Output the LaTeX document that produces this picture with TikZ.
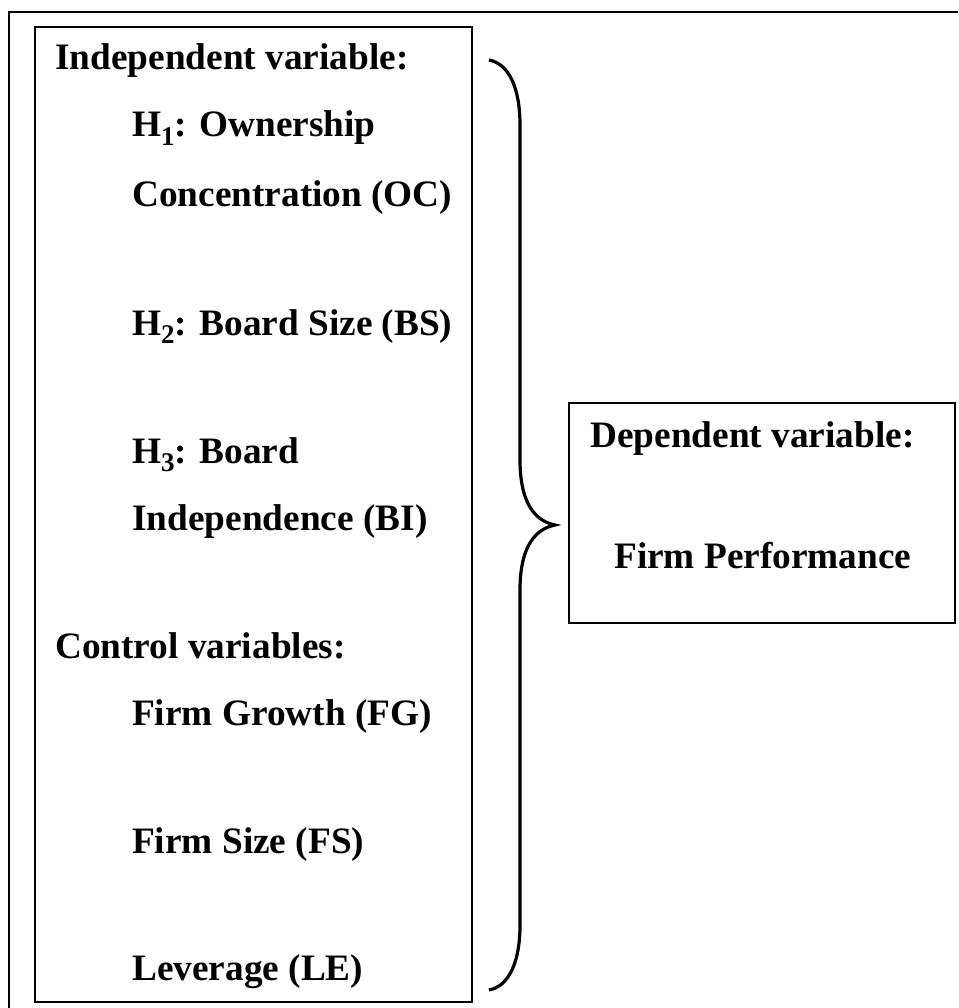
\documentclass[tikz,border=0pt]{standalone}
\usepackage{fontspec}
\setmainfont{Liberation Serif}
\newcommand{\hsub}[1]{\raisebox{-0.22em}{\fontsize{27}{30}\selectfont #1}}
\begin{document}
\begin{tikzpicture}[x=1pt,y=-1pt,
  txt/.style={anchor=base west, inner sep=0pt, font=\fontsize{37.3}{42}\selectfont\bfseries},
  box/.style={draw, line width=1.3pt, inner sep=0pt},
  frame/.style={line width=2pt},
  brace/.style={line width=3.2pt}]
\useasboundingbox (0,0) rectangle (958,1008);
\draw[frame] (9,1008) -- (9,12) -- (958,12);
\node[box, minimum width=437pt, minimum height=975pt] (left) at (253.5,514.5) {};
\node[box, minimum width=386pt, minimum height=220pt] (right) at (762,513) {};
% left texts
\node[txt] (t1) at (55,70) {Independent variable:};
\node[txt] (t2) at (132,137) {H\hsub{1}: Ownership};
\node[txt] (t3) at (132,207) {Concentration (OC)};
\node[txt] (t4) at (132,335) {H\hsub{2}: Board Size (BS)};
\node[txt] (t5) at (132,463) {H\hsub{3}: Board};
\node[txt] (t6) at (132,530) {Independence (BI)};
\node[txt] (t7) at (55,658) {Control variables:};
\node[txt] (t8) at (132,725) {Firm Growth (FG)};
\node[txt] (t9) at (132,853) {Firm Size (FS)};
\node[txt] (t10) at (132,980) {Leverage (LE)};
% right texts
\node[txt] (d1) at (590,447) {Dependent variable:};
\node[txt] (d2) at (614,568) {Firm Performance};
% brace
\coordinate (btop) at (489,60);
\coordinate (btip) at (555,525);
\coordinate (bbot) at (489,990);
\draw[brace] (btop) .. controls (510,64) and (520,90) .. (520,125) -- (520,460)
  .. controls (520,495) and (530,520) .. (btip)
  .. controls (530,530) and (520,555) .. (520,590) -- (520,925)
  .. controls (520,960) and (510,986) .. (bbot);
\end{tikzpicture}
\end{document}
